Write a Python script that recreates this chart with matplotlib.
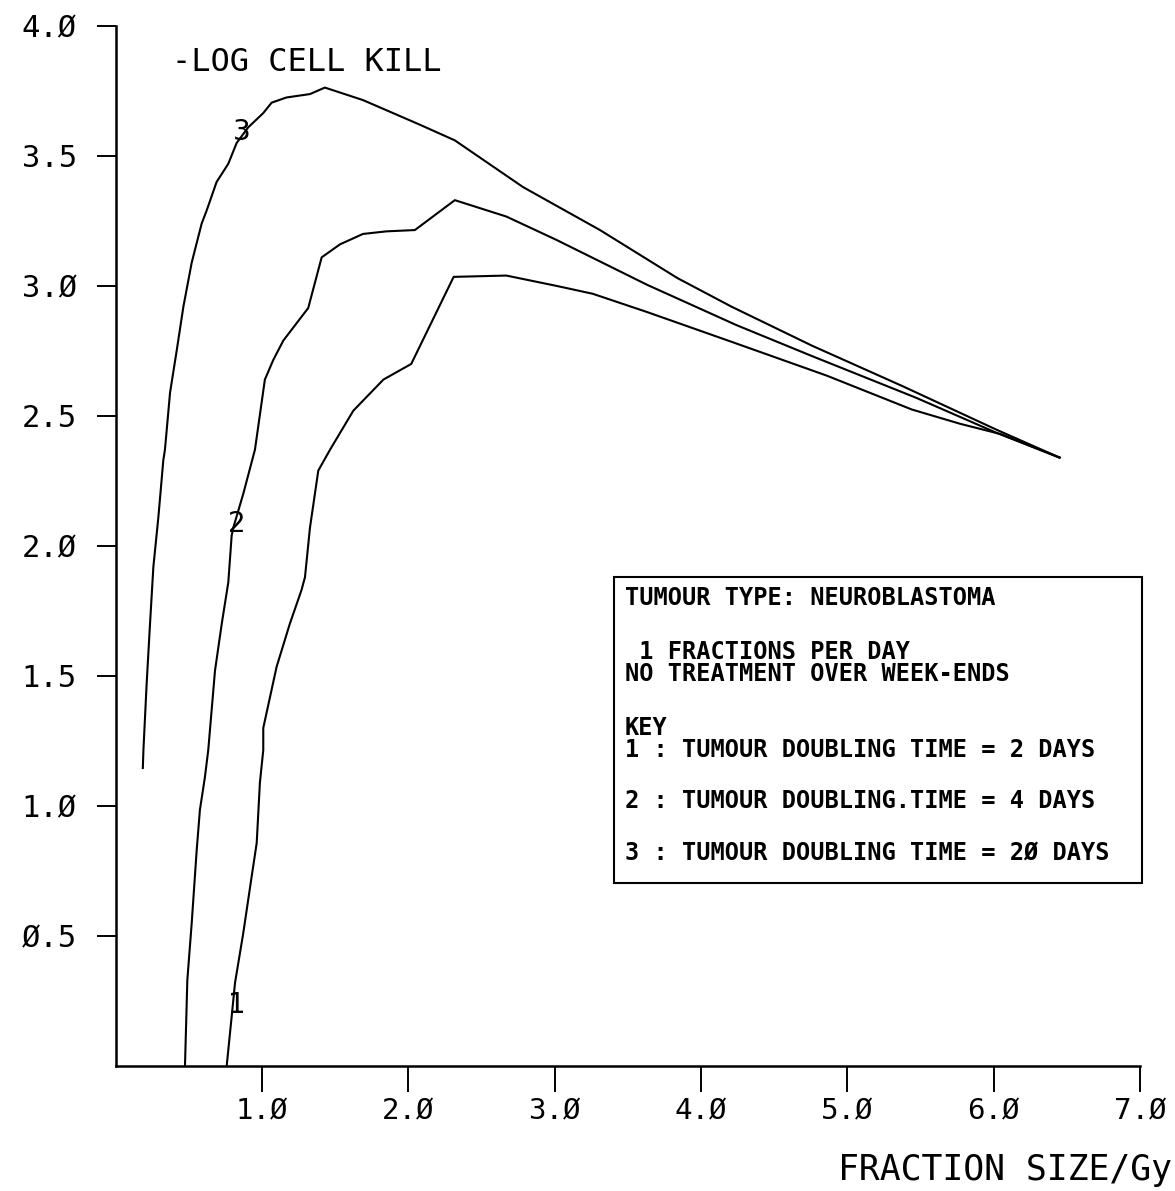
import numpy as np
import matplotlib
matplotlib.use('Agg')
import matplotlib.pyplot as plt
from matplotlib.patches import Rectangle

# curve 1 : tumour doubling time = 2 days
x1 = [0.759, 0.793, 0.816, 0.872, 0.93, 0.964, 0.986, 1.009, 1.009, 1.10, 1.19, 1.27,
      1.294, 1.328, 1.385, 1.465, 1.624, 1.83, 2.02, 2.31, 2.67, 3.015, 3.26, 3.63,
      4.21, 4.86, 5.44, 5.77, 6.05, 6.45]
y1 = [0.0, 0.19, 0.32, 0.51, 0.73, 0.857, 1.09, 1.215, 1.30, 1.535, 1.70, 1.83,
      1.88, 2.07, 2.29, 2.37, 2.52, 2.64, 2.70, 3.035, 3.04, 3.0, 2.97, 2.90,
      2.785, 2.655, 2.525, 2.47, 2.43, 2.34]

# curve 2 : tumour doubling time = 4 days
x2 = [0.474, 0.49, 0.52, 0.554, 0.576, 0.61, 0.633, 0.679, 0.725, 0.77, 0.793, 0.804,
      0.872, 0.952, 1.02, 1.077, 1.146, 1.316, 1.408, 1.533, 1.69, 1.85, 2.045, 2.318,
      2.67, 3.013, 3.63, 4.24, 4.76, 5.47, 6.02, 6.45]
y2 = [0.0, 0.33, 0.55, 0.83, 0.985, 1.11, 1.215, 1.52, 1.70, 1.86, 2.04, 2.07,
      2.20, 2.37, 2.64, 2.715, 2.79, 2.915, 3.11, 3.16, 3.20, 3.21, 3.215, 3.33,
      3.267, 3.177, 3.005, 2.85, 2.73, 2.57, 2.435, 2.34]

# curve 3 : tumour doubling time = 20 days
x3 = [0.186, 0.19, 0.212, 0.235, 0.258, 0.292, 0.326, 0.337, 0.372, 0.417, 0.463, 0.52,
      0.588, 0.622, 0.69, 0.77, 0.827, 0.906, 1.009, 1.066, 1.168, 1.328, 1.43, 1.69,
      2.08, 2.318, 2.785, 3.31, 3.84, 4.21, 4.76, 5.376, 6.02, 6.45]
y3 = [1.146, 1.215, 1.47, 1.70, 1.92, 2.11, 2.33, 2.37, 2.59, 2.75, 2.92, 3.09,
      3.24, 3.29, 3.40, 3.47, 3.55, 3.61, 3.665, 3.705, 3.725, 3.738, 3.763, 3.715,
      3.62, 3.56, 3.38, 3.215, 3.03, 2.92, 2.77, 2.615, 2.447, 2.34]

xticks = [1, 2, 3, 4, 5, 6, 7]
yticks = [0.5, 1.0, 1.5, 2.0, 2.5, 3.0, 3.5, 4.0]

legend_lines = [
    "TUMOUR TYPE: NEUROBLASTOMA",
    " 1 FRACTIONS PER DAY",
    "NO TREATMENT OVER WEEK-ENDS",
    "KEY",
    "1 : TUMOUR DOUBLING TIME = 2 DAYS",
    "2 : TUMOUR DOUBLING.TIME = 4 DAYS",
    "3 : TUMOUR DOUBLING TIME = 2Ø DAYS",
]
legend_y = [0.45, 0.398, 0.377, 0.325, 0.304, 0.255, 0.205]

mono = 'DejaVu Sans Mono'

fig = plt.figure(figsize=(11.75, 11.91), dpi=100)
ax = fig.add_axes([0.0984, 0.105, 0.8718, 0.8732])

curves = [(x1, y1, '1', 1), (x2, y2, '2', 10), (x3, y3, '3', 16)]
for xs, ys, lab, i in curves:
    ax.plot(xs, ys, color='black', lw=1.5)
    ax.annotate(lab, (xs[i], ys[i]), xytext=(4, 8), textcoords='offset points',
                ha='center', va='center', fontsize=20, fontfamily='DejaVu Sans')

ax.set_xlim(0, 7)
ax.set_ylim(0, 4)
ax.spines['top'].set_visible(False)
ax.spines['right'].set_visible(False)
ax.spines['left'].set_linewidth(1.8)
ax.spines['bottom'].set_linewidth(1.8)

ax.set_xticks(xticks)
ax.set_xticklabels([f"{v:.1f}".replace('0', 'Ø') for v in xticks], fontfamily=mono, fontsize=21)
ax.set_yticks(yticks)
ax.set_yticklabels([f"{v:.1f}".replace('0', 'Ø') for v in yticks], fontfamily=mono, fontsize=22)
ax.tick_params(axis='x', direction='out', length=19, width=1.4, pad=4)
ax.tick_params(axis='y', direction='out', length=14, width=1.4, pad=14)

ax.text(0.055, 0.965, "-LOG CELL KILL", transform=ax.transAxes, fontfamily=mono,
        fontsize=23, ha='left', va='center')
fig.text(0.9974, 0.0175, "FRACTION SIZE/Gy", fontfamily=mono, fontsize=25,
         ha='right', va='center')

# key box
ax.add_patch(Rectangle((0.4865, 0.176), 0.5155, 0.294, transform=ax.transAxes,
                       fill=False, lw=1.5, ec='black', clip_on=False))
for line, yy in zip(legend_lines, legend_y):
    ax.text(0.497, yy, line, transform=ax.transAxes, fontfamily=mono,
            fontweight='bold', fontsize=17, ha='left', va='center')

fig.savefig('out.png', dpi=100)
